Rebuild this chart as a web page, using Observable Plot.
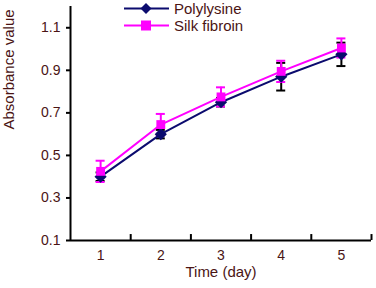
<!DOCTYPE html>
<html>
<head>
<meta charset="utf-8">
<script src="https://cdn.jsdelivr.net/npm/d3@7"></script>
<script src="https://cdn.jsdelivr.net/npm/@observablehq/plot@0.6"></script>
<style>
  html, body { margin: 0; padding: 0; background: #fff; }
  #wrap { position: relative; width: 376px; height: 288px; font-family: "Liberation Sans", Arial, sans-serif; }
  #legend { position: absolute; left: 124px; top: 0px; font-size: 15px; color: #4a1414; line-height: 17px; }
  #legend .row { display: flex; align-items: center; height: 17px; }
  #legend svg { margin-right: 5px; }
</style>
</head>
<body>
<div id="wrap"></div>
<script>
const days = [1, 2, 3, 4, 5];
const seriesNames = ["Polylysine", "Silk fibroin"];
const polylysine = [0.40, 0.60, 0.75, 0.87, 0.975];
const polylysineErr = [0.02, 0.02, 0.02, 0.065, 0.055];
const silkFibroin = [0.425, 0.645, 0.775, 0.895, 1.005];
const silkFibroinErr = [0.05, 0.05, 0.045, 0.05, 0.045];
const yTicks = [0.1, 0.3, 0.5, 0.7, 0.9, 1.1];
const colors = { "Polylysine": "#0b0b6e", "Silk fibroin": "#ff00ff" };
const errColors = { "Polylysine": "#000000", "Silk fibroin": "#ff00ff" };
const textColor = "#4a1414";

const rows = [];
days.forEach((d, i) => {
  rows.push({ day: d, series: "Polylysine", value: polylysine[i], err: polylysineErr[i] });
  rows.push({ day: d, series: "Silk fibroin", value: silkFibroin[i], err: silkFibroinErr[i] });
});
const boundaries = days.map(d => d + 0.5);
const poly = rows.filter(r => r.series === "Polylysine");
const silk = rows.filter(r => r.series === "Silk fibroin");

function errMarks(data, color) {
  return [
    Plot.ruleX(data, { x: "day", y1: d => d.value - d.err, y2: d => d.value + d.err, stroke: color, strokeWidth: 2 }),
    Plot.ruleY(data, { x1: d => d.day - 0.075, x2: d => d.day + 0.075, y: d => d.value + d.err, stroke: color, strokeWidth: 2 }),
    Plot.ruleY(data, { x1: d => d.day - 0.075, x2: d => d.day + 0.075, y: d => d.value - d.err, stroke: color, strokeWidth: 2 })
  ];
}

const chart = Plot.plot({
  width: 376,
  height: 288,
  marginLeft: 70,
  marginRight: 5,
  marginTop: 6,
  marginBottom: 48,
  style: { fontFamily: "'Liberation Sans', Arial, sans-serif", fontSize: "14px", color: textColor, background: "#fff" },
  x: { domain: [0.5, 5.5], axis: null },
  y: { domain: [0.1, 1.2], axis: null },
  marks: [
    ...errMarks(poly, errColors["Polylysine"]),
    ...errMarks(silk, errColors["Silk fibroin"]),
    Plot.line(poly, { x: "day", y: "value", stroke: colors["Polylysine"], strokeWidth: 2 }),
    Plot.line(silk, { x: "day", y: "value", stroke: colors["Silk fibroin"], strokeWidth: 2 }),
    Plot.dot(poly, { x: "day", y: "value", symbol: "diamond2", r: 5.5, fill: colors["Polylysine"], stroke: "none" }),
    Plot.dot(silk, { x: "day", y: "value", symbol: "square", r: 5, fill: colors["Silk fibroin"], stroke: "none" }),
    Plot.ruleX([0.5], { y1: 0.1, y2: 1.2, stroke: "#000", strokeWidth: 2 }),
    Plot.ruleY([0.1], { x1: 0.5, x2: 5.5, stroke: "#000", strokeWidth: 2 }),
    Plot.ruleX(boundaries, { y1: 0.1, y2: 0.128, stroke: "#000", strokeWidth: 2 }),
    Plot.axisY({ ticks: yTicks, tickFormat: d3.format(".1f"), tickSize: 4, tickPadding: 6, stroke: "#000", strokeWidth: 2, fill: textColor, fontSize: 14, label: null, anchor: "left" }),
    Plot.axisX({ ticks: days, tickFormat: d => String(d), tickSize: 0, tickPadding: 10, fill: textColor, fontSize: 14, label: null, anchor: "bottom" }),
    Plot.text(["Time (day)"], { frameAnchor: "bottom", dy: 36, fill: textColor, fontSize: 15 }),
    Plot.text(["Absorbance value"], { frameAnchor: "left", dx: -61, dy: 6, rotate: -90, fill: textColor, fontSize: 15 })
  ]
});

const wrap = document.getElementById("wrap");
wrap.appendChild(chart);

const legend = document.createElement("div");
legend.id = "legend";
seriesNames.forEach(name => {
  const row = document.createElement("div");
  row.className = "row";
  const marker = name === "Polylysine"
    ? `<path d="M22,3L27.5,8.5L22,14L16.5,8.5Z" fill="${colors[name]}"/>`
    : `<rect x="17" y="3.5" width="10" height="10" fill="${colors[name]}"/>`;
  row.innerHTML = `<svg width="45" height="17"><line x1="0" x2="45" y1="8.5" y2="8.5" stroke="${colors[name]}" stroke-width="2"/>${marker}</svg><span>${name}</span>`;
  legend.appendChild(row);
});
wrap.appendChild(legend);
</script>
</body>
</html>
